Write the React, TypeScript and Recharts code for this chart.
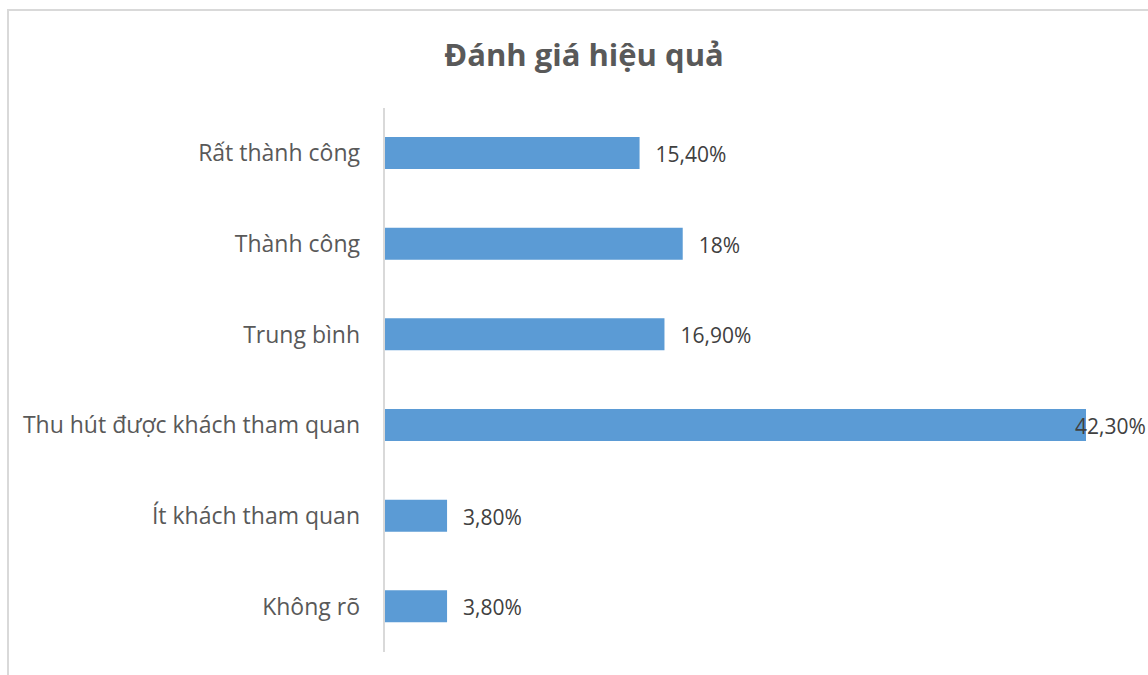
import React from 'react';
import { BarChart, Bar, XAxis, YAxis, LabelList } from 'recharts';

const categories = [
  'Rất thành công',
  'Thành công',
  'Trung bình',
  'Thu hút được khách tham quan',
  'Ít khách tham quan',
  'Không rõ',
];
const values = [15.4, 18, 16.9, 42.3, 3.8, 3.8];
const valueLabels = ['15,40%', '18%', '16,90%', '42,30%', '3,80%', '3,80%'];

const W = 1148;
const H = 675;
const FONT = '"Open Sans", "Noto Sans", sans-serif';

const data = categories.map((name, i) => ({ name, value: values[i], label: valueLabels[i] }));

// data labels sit right of the bar, but get pulled back when they would run off the chart
const ValueLabel = (props: any) => {
  const { x, y, width, height, value } = props;
  const tx = Math.min(x + width + 16, W - 73);
  return (
    <text x={tx} y={y + height / 2 + 1} dominantBaseline="central" fill="#404040" fontSize={21} fontFamily={FONT}>
      {value}
    </text>
  );
};

export default function App() {
  return (
    <div style={{ position: 'absolute', left: 0, top: 0, width: W, height: H, overflow: 'hidden', background: '#fff' }}>
      <div
        style={{
          position: 'absolute', left: 7, top: 9, width: W + 40, height: H + 40,
          borderLeft: '2px solid #d9d9d9', borderTop: '2px solid #d9d9d9',
        }}
      />
      <div
        style={{
          position: 'absolute', left: 0, top: 33, width: W + 20, textAlign: 'center',
          fontFamily: FONT, fontWeight: 700, fontSize: 31, color: '#595959',
        }}
      >
        Đánh giá hiệu quả
      </div>
      <div style={{ position: 'absolute', left: 0, top: 0 }}>
        <BarChart
          width={W}
          height={H}
          data={data}
          layout="vertical"
          margin={{ top: 108, right: 62, bottom: 23, left: 0 }}
        >
          <XAxis type="number" domain={[0, 42.3]} hide />
          <YAxis
            type="category"
            dataKey="name"
            width={384}
            axisLine={{ stroke: '#d9d9d9', strokeWidth: 2 }}
            tickLine={false}
            tickSize={0}
            tickMargin={24}
            tick={{ fill: '#595959', fontSize: 23, fontFamily: FONT }}
            interval={0}
          />
          <Bar dataKey="value" fill="#5b9bd5" barSize={32} isAnimationActive={false}>
            <LabelList dataKey="label" content={ValueLabel} />
          </Bar>
        </BarChart>
      </div>
    </div>
  );
}
